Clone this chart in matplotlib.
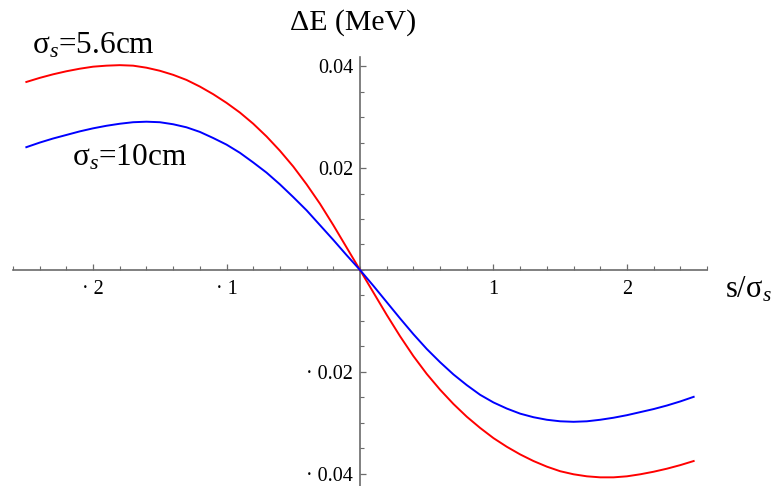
import matplotlib
matplotlib.use("Agg")
import matplotlib.pyplot as plt
from matplotlib.ticker import FixedLocator, FixedFormatter, MultipleLocator

plt.rcParams["font.family"] = ["Liberation Serif", "DejaVu Serif"]
plt.rcParams["mathtext.fontset"] = "custom"
plt.rcParams["mathtext.rm"] = "Liberation Serif"
plt.rcParams["mathtext.it"] = "Liberation Serif:italic"

# s / sigma_s sample positions
s = [-2.5, -2.4, -2.3, -2.2, -2.1, -2.0, -1.9, -1.8, -1.7, -1.6, -1.5, -1.4, -1.3,
     -1.2, -1.1, -1.0, -0.9, -0.8, -0.7, -0.6, -0.5, -0.4, -0.3, -0.2, -0.1, 0.0,
     0.1, 0.2, 0.3, 0.4, 0.5, 0.6, 0.7, 0.8, 0.9, 1.0, 1.1, 1.2, 1.3,
     1.4, 1.5, 1.6, 1.7, 1.8, 1.9, 2.0, 2.1, 2.2, 2.3, 2.4, 2.5]

# energy change (MeV), bunch length 5.6 cm
dE_56 = [0.0369, 0.0377, 0.0384, 0.0390, 0.0395, 0.0399, 0.0401, 0.0402, 0.0401, 0.0397,
         0.0391, 0.0383, 0.0373, 0.0360, 0.0345, 0.0328, 0.0309, 0.0287, 0.0262, 0.0234,
         0.0203, 0.0168, 0.0130, 0.0088, 0.0044, 0.0,
         -0.0044, -0.0088, -0.0130, -0.0169, -0.0204, -0.0235, -0.0263, -0.0288, -0.0310,
         -0.0330, -0.0347, -0.0362, -0.0375, -0.0386, -0.0395, -0.0401, -0.0405, -0.0407,
         -0.0407, -0.0405, -0.0401, -0.0396, -0.0390, -0.0383, -0.0375]

# energy change (MeV), bunch length 10 cm
dE_10 = [0.0241, 0.0250, 0.0258, 0.0265, 0.0272, 0.0278, 0.0283, 0.0287, 0.0290, 0.0291,
         0.0290, 0.0286, 0.0280, 0.0271, 0.0259, 0.0246, 0.0230, 0.0211, 0.0191, 0.0168,
         0.0143, 0.0117, 0.0088, 0.0059, 0.0029, 0.0,
         -0.0031, -0.0063, -0.0095, -0.0126, -0.0155, -0.0181, -0.0205, -0.0226, -0.0245,
         -0.0260, -0.0272, -0.0282, -0.0289, -0.0294, -0.0297, -0.0298, -0.0297, -0.0294,
         -0.0290, -0.0285, -0.0279, -0.0273, -0.0266, -0.0258, -0.0249]

x_ticks = [-2, -1, 1, 2]
x_labels = ["\u00b7 2", "\u00b7 1", "1", "2"]
y_ticks = [-0.04, -0.02, 0.02, 0.04]
y_labels = ["\u00b7 0.04", "\u00b7 0.02", "0.02", "0.04"]

W, H = 773, 486
fig = plt.figure(figsize=(W / 100, H / 100), dpi=100)
ax = fig.add_axes([13 / W, 0.0, 694 / W, 429 / H])
ax.set_xlim(-2.6, 2.6)
ax.set_ylim(-0.0424, 0.0418)

ax.plot(s, dE_56, color="#ff0000", lw=1.4, zorder=3)
ax.plot(s, dE_10, color="#0000ff", lw=1.4, zorder=4)

axis_col = "#6b6b6b"
for side in ("top", "right"):
    ax.spines[side].set_visible(False)
for side in ("left", "bottom"):
    ax.spines[side].set_position(("data", 0))
    ax.spines[side].set_color(axis_col)
    ax.spines[side].set_linewidth(1.2)
    ax.spines[side].set_zorder(2)

ax.xaxis.set_major_locator(FixedLocator(x_ticks))
ax.xaxis.set_major_formatter(FixedFormatter(x_labels))
ax.xaxis.set_minor_locator(MultipleLocator(0.2))
ax.yaxis.set_major_locator(FixedLocator(y_ticks))
ax.yaxis.set_major_formatter(FixedFormatter(y_labels))
ax.yaxis.set_minor_locator(MultipleLocator(0.005))

ax.tick_params(axis="x", which="major", direction="in", length=4.5, width=0.9,
               color=axis_col, labelsize=14.5, pad=7.5)
ax.tick_params(axis="x", which="minor", direction="in", length=2.6, width=0.8,
               color=axis_col)
ax.tick_params(axis="y", which="major", direction="in", length=4.5, width=0.9,
               color=axis_col, labelsize=14.5, pad=5)
ax.tick_params(axis="y", which="minor", direction="in", length=2.6, width=0.8,
               color=axis_col)

fig.text(353 / W, 1 - 23 / H, "\u0394E (MeV)", fontsize=21.5, ha="center", va="center")
fig.text(725 / W, 1 - 290 / H, "s/\u03c3$_s$", fontsize=22, ha="left", va="center")
fig.text(32 / W, 1 - 46 / H, "\u03c3$_s$=5.6cm", fontsize=22.5, ha="left", va="center")
fig.text(72 / W, 1 - 158 / H, "\u03c3$_s$=10cm", fontsize=22.5, ha="left", va="center")

fig.savefig("out.png", dpi=100)
